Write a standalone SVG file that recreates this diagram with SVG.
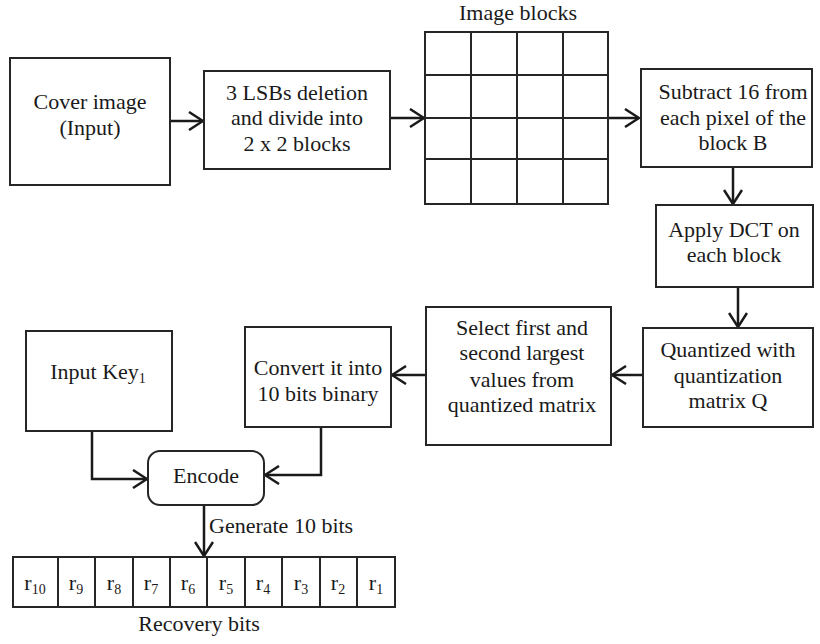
<svg xmlns="http://www.w3.org/2000/svg" width="820" height="644" viewBox="0 0 820 644" font-family="'Liberation Serif', 'DejaVu Serif', serif">
  <defs>
    <style>
      .box { fill: #fff; stroke: #262626; stroke-width: 2; }
      .grid { fill: none; stroke: #262626; stroke-width: 2; }
      .link { fill: none; stroke: #1a1a1a; stroke-width: 2.5; marker-end: url(#chevron); }
      text { font-family: 'Liberation Serif', 'DejaVu Serif', serif; font-size: 22px; fill: #1a1a1a; text-anchor: middle; }
      .sub { font-size: 14px; }
    </style>
    <marker id="chevron" viewBox="0 0 16 20" refX="15" refY="10" markerWidth="16" markerHeight="20" markerUnits="userSpaceOnUse" orient="auto">
      <path d="M1,1 L15,10 L1,19" fill="none" stroke="#1a1a1a" stroke-width="2.5"/>
    </marker>
  </defs>
  <rect width="820" height="644" fill="#fff"/>

  <!-- connectors -->
  <g id="connectors">
    <line class="link" x1="170" y1="121" x2="203" y2="121"/>
    <line class="link" x1="390" y1="118" x2="424" y2="118"/>
    <line class="link" x1="608" y1="118" x2="639" y2="118"/>
    <line class="link" x1="733" y1="167" x2="733" y2="204"/>
    <line class="link" x1="738" y1="287" x2="738" y2="327"/>
    <line class="link" x1="643" y1="375" x2="612" y2="375"/>
    <line class="link" x1="426" y1="375" x2="392" y2="375"/>
    <polyline class="link" points="92,431 92,479 147,479"/>
    <polyline class="link" points="321,427 321,475 265,475"/>
    <line class="link" x1="204" y1="505" x2="204" y2="556"/>
    <text x="209" y="533" style="text-anchor:start">Generate 10 bits</text>
  </g>

  <g id="cover-image">
    <rect class="box" x="10" y="58" width="160" height="127"/>
    <text x="90" y="109">Cover image</text>
    <text x="90" y="135">(Input)</text>
  </g>

  <g id="lsb-deletion">
    <rect class="box" x="204" y="71" width="186" height="98"/>
    <text x="297" y="100">3 LSBs deletion</text>
    <text x="297" y="125">and divide into</text>
    <text x="297" y="151">2 x 2 blocks</text>
  </g>

  <g id="image-blocks">
    <text x="518" y="20">Image blocks</text>
    <rect class="grid" x="425" y="32" width="183" height="172"/>
    <path class="grid" d="M471,32 V204 M517,32 V204 M563,32 V204 M425,75 H608 M425,118 H608 M425,159 H608"/>
  </g>

  <g id="subtract">
    <rect class="box" x="641" y="69" width="171" height="98"/>
    <text x="733" y="99">Subtract 16 from</text>
    <text x="733" y="125">each pixel of the</text>
    <text x="733" y="150">block B</text>
  </g>

  <g id="apply-dct">
    <rect class="box" x="656" y="205" width="157" height="82"/>
    <text x="734" y="237">Apply DCT on</text>
    <text x="734" y="262">each block</text>
  </g>

  <g id="quantize">
    <rect class="box" x="643" y="328" width="170" height="99"/>
    <text x="728" y="357">Quantized with</text>
    <text x="728" y="383">quantization</text>
    <text x="728" y="408">matrix Q</text>
  </g>

  <g id="select-largest">
    <rect class="box" x="426" y="307" width="185" height="138"/>
    <text x="522" y="335">Select first and</text>
    <text x="522" y="360">second largest</text>
    <text x="522" y="387">values from</text>
    <text x="522" y="412">quantized matrix</text>
  </g>

  <g id="convert-binary">
    <rect class="box" x="245" y="327" width="146" height="100"/>
    <text x="318" y="375">Convert it into</text>
    <text x="318" y="401">10 bits binary</text>
  </g>

  <g id="input-key">
    <rect class="box" x="26" y="331" width="146" height="100"/>
    <text x="98" y="379">Input Key<tspan class="sub" dy="4">1</tspan></text>
  </g>

  <g id="encode">
    <rect class="box" x="148" y="451" width="116" height="54" rx="12" ry="12"/>
    <text x="206" y="483">Encode</text>
  </g>

  <g id="recovery-bits">
    <rect class="grid" x="13" y="557" width="382" height="50"/>
    <path class="grid" d="M58,557 V607 M95,557 V607 M133,557 V607 M170,557 V607 M207,557 V607 M245,557 V607 M282,557 V607 M320,557 V607 M357,557 V607"/>
    <text x="35" y="590">r<tspan class="sub" dy="4">10</tspan></text>
    <text x="76" y="590">r<tspan class="sub" dy="4">9</tspan></text>
    <text x="114" y="590">r<tspan class="sub" dy="4">8</tspan></text>
    <text x="151" y="590">r<tspan class="sub" dy="4">7</tspan></text>
    <text x="188" y="590">r<tspan class="sub" dy="4">6</tspan></text>
    <text x="226" y="590">r<tspan class="sub" dy="4">5</tspan></text>
    <text x="263" y="590">r<tspan class="sub" dy="4">4</tspan></text>
    <text x="301" y="590">r<tspan class="sub" dy="4">3</tspan></text>
    <text x="338" y="590">r<tspan class="sub" dy="4">2</tspan></text>
    <text x="376" y="590">r<tspan class="sub" dy="4">1</tspan></text>
    <text x="199" y="631">Recovery bits</text>
  </g>
</svg>
